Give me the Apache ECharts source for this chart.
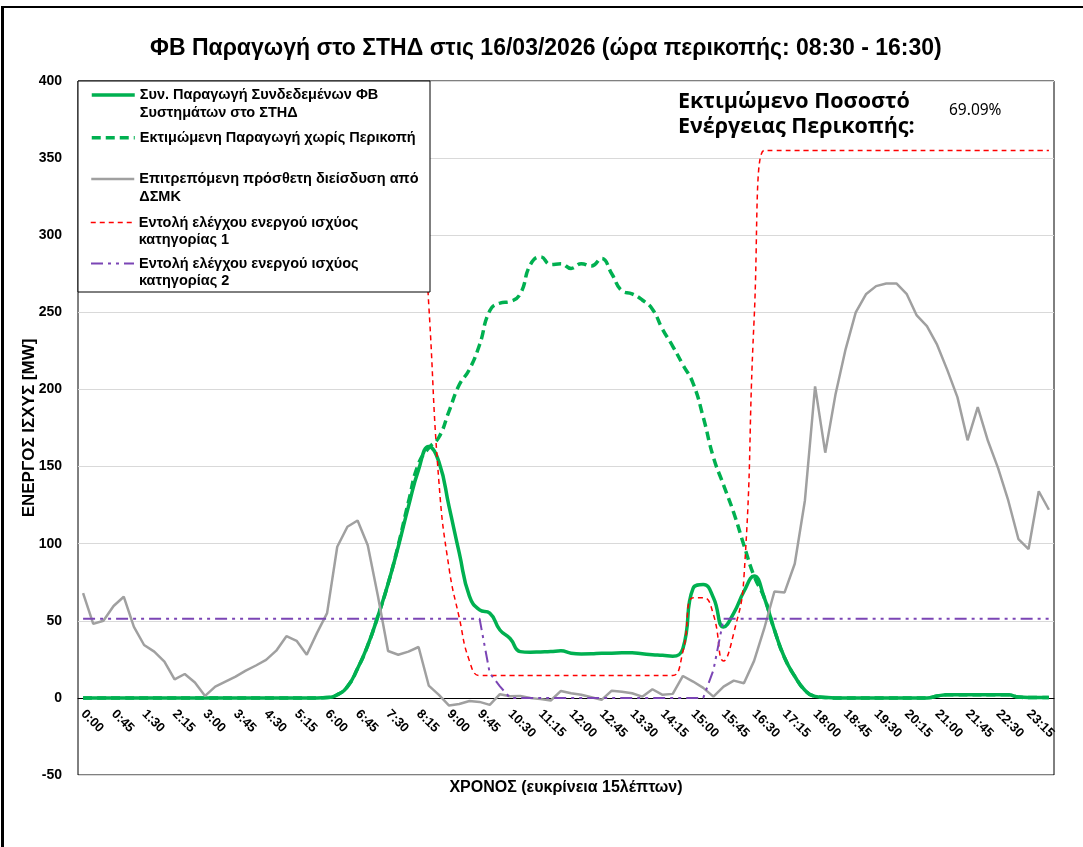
<!DOCTYPE html>
<html>
<head>
<meta charset="utf-8">
<title>ΦΒ Παραγωγή στο ΣΤΗΔ</title>
<script src="https://cdn.jsdelivr.net/npm/echarts@6/dist/echarts.min.js"></script>
<style>
  html, body { margin: 0; padding: 0; background: #fff; }
  #chart { width: 1083px; height: 847px; }
</style>
</head>
<body>
<div id="chart"></div>
<script>
// 15-minute slots
const times = [
  '0:00','0:15','0:30','0:45','1:00','1:15','1:30','1:45','2:00','2:15','2:30','2:45',
  '3:00','3:15','3:30','3:45','4:00','4:15','4:30','4:45','5:00','5:15','5:30','5:45',
  '6:00','6:15','6:30','6:45','7:00','7:15','7:30','7:45','8:00','8:15','8:30','8:45',
  '9:00','9:15','9:30','9:45','10:00','10:15','10:30','10:45','11:00','11:15','11:30','11:45',
  '12:00','12:15','12:30','12:45','13:00','13:15','13:30','13:45','14:00','14:15','14:30','14:45',
  '15:00','15:15','15:30','15:45','16:00','16:15','16:30','16:45','17:00','17:15','17:30','17:45',
  '18:00','18:15','18:30','18:45','19:00','19:15','19:30','19:45','20:00','20:15','20:30','20:45',
  '21:00','21:15','21:30','21:45','22:00','22:15','22:30','22:45','23:00','23:15','23:30','23:45'
];

const yTicks = [-50, 0, 50, 100, 150, 200, 250, 300, 350, 400];

// MW
const pvActual = [
  0, 0, 0, 0, 0, 0, 0, 0, 0, 0, 0, 0,
  0, 0, 0, 0, 0, 0, 0, 0, 0, 0, 0, 0,
  0.2, 2, 7.3, 19, 34, 53, 74, 98, 124, 148,
  163, 153, 124, 94, 66, 57, 55, 44, 38.5, 30,
  29.6, 29.8, 30, 30.5, 29, 28.5, 28.6, 29, 29, 29.2,
  29.2, 28.6, 28, 27.6, 27, 32, 71, 73.5, 65, 46,
  55, 69, 79, 65, 44, 26, 14, 5, 1, 0.3,
  0, 0, 0, 0, 0, 0, 0, 0, 0, 0,
  1.2, 2, 2, 2, 2, 2, 2, 2, 0.5, 0.3, 0.3, 0.3
];

const pvEstimated = [
  0, 0, 0, 0, 0, 0, 0, 0, 0, 0, 0, 0,
  0, 0, 0, 0, 0, 0, 0, 0, 0, 0, 0, 0,
  0.2, 2, 7.3, 19, 34, 53, 74,
  99, 127, 152, 162, 169, 186, 203, 213, 229, 251,
  256, 257, 262, 281, 286, 281, 281.5, 278.5, 281.5, 280,
  285, 275, 264, 262, 258, 252, 239, 228, 216, 204,
  182, 156, 138, 120, 99, 79, 65, 44, 26, 14,
  5, 1, 0.3, 0, 0, 0, 0, 0, 0, 0,
  0, 0, 0, 1.2, 2, 2, 2, 2, 2, 2,
  2, 0.5, 0.3, 0.3, 0.3
];

const allowedPenetration = [
  68, 48, 50, 59.6, 65.6, 46, 34.3, 30, 23.5, 12,
  15.5, 10, 1.3, 7.3, 10.6, 13.8, 17.7, 21, 24.6, 30.6,
  40, 37, 28, 42, 55, 98, 111, 115, 99, 66,
  30.4, 28, 30, 33, 8, 2, -5, -4, -2, -2.6,
  -4.5, 2.4, 1, 1.3, 0, -0.8, -1.7, 4.5, 3, 2,
  0.4, -1.3, 4.7, 4, 3, 0.8, 5.6, 2, 2.6, 14.2,
  10.6, 6.5, 0.8, 7.3, 11.2, 9.5, 24, 45, 69, 68.4,
  87, 128, 202, 159, 196.5, 226, 250, 261.7, 267, 268.7,
  268.7, 262, 248, 241, 229, 212.7, 195, 167, 188.6, 166.7,
  149, 128, 103, 96.5, 134, 122
];

const cmdCat1 = [
  355, 355, 355, 355, 355, 355, 355, 355, 355, 355, 355, 355,
  355, 355, 355, 355, 355, 355, 355, 355, 355, 355, 355, 355,
  355, 355, 355, 355, 355, 355, 355, 355, 355, 355,
  255, 140, 84, 52, 24, 14.5,
  14.5, 14.5, 14.5, 14.5, 14.5, 14.5, 14.5, 14.5, 14.5, 14.5,
  14.5, 14.5, 14.5, 14.5, 14.5, 14.5, 14.5, 14.5, 14.5,
  30, 65, 65, 54, 24, 42, 78, 245,
  355, 355, 355, 355, 355, 355, 355, 355, 355, 355,
  355, 355, 355, 355, 355, 355, 355, 355, 355, 355,
  355, 355, 355, 355, 355, 355, 355, 355, 355
];

const cmdCat2 = [
  51.3, 51.3, 51.3, 51.3, 51.3, 51.3, 51.3, 51.3, 51.3, 51.3,
  51.3, 51.3, 51.3, 51.3, 51.3, 51.3, 51.3, 51.3, 51.3, 51.3,
  51.3, 51.3, 51.3, 51.3, 51.3, 51.3, 51.3, 51.3, 51.3, 51.3,
  51.3, 51.3, 51.3, 51.3, 51.3, 51.3, 51.3, 51.3, 51.3, 51.3,
  16, 7.5,
  0, 0, 0, 0, 0, 0, 0, 0, 0, 0,
  0, 0, 0, 0, 0, 0, 0, 0, 0, 0,
  18,
  51.3, 51.3, 51.3, 51.3, 51.3, 51.3, 51.3, 51.3, 51.3, 51.3, 51.3,
  51.3, 51.3, 51.3, 51.3, 51.3, 51.3, 51.3, 51.3, 51.3, 51.3, 51.3,
  51.3, 51.3, 51.3, 51.3, 51.3, 51.3, 51.3, 51.3, 51.3, 51.3, 51.3
];

const names = [
  'Συν. Παραγωγή Συνδεδεμένων ΦΒ\nΣυστημάτων στο ΣΤΗΔ',
  'Εκτιμώμενη Παραγωγή χωρίς Περικοπή',
  'Επιτρεπόμενη πρόσθετη διείσδυση από\nΔΣΜΚ',
  'Εντολή ελέγχου ενεργού ισχύος\nκατηγορίας 1',
  'Εντολή ελέγχου ενεργού ισχύος\nκατηγορίας 2'
];

const chart = echarts.init(document.getElementById('chart'));

const FONT = '"Liberation Sans", Arial, sans-serif';
const LH = 17.5;

// one legend per entry; a blank first line keeps the icon on the first text line (excel style)
function legendItem(name, iconY, width, twoLines) {
  return {
    data: [name],
    left: 90,
    top: twoLines ? iconY - 26.25 : iconY - 8.75,
    padding: 0,
    z: 10,
    itemWidth: 43,
    itemHeight: 14,
    selectedMode: false,
    lineStyle: { width: width },
    itemStyle: { opacity: 0, color: 'rgba(0,0,0,0)', borderWidth: 0 },
    formatter: n => (twoLines ? '\n' + n : n),
    textStyle: {
      fontFamily: FONT, fontWeight: 'bold', fontSize: 14.5, color: '#000',
      lineHeight: LH
    }
  };
}

const option = {
  backgroundColor: '#fff',
  animation: false,
  title: {
    text: 'ΦΒ Παραγωγή στο ΣΤΗΔ στις 16/03/2026 (ώρα περικοπής: 08:30 - 16:30)',
    left: 150,
    top: 37,
    padding: 0,
    textStyle: { fontFamily: FONT, fontWeight: 'bold', fontSize: 23, color: '#000' }
  },
  legend: [
    legendItem(names[0], 95, 3.5, true),
    legendItem(names[1], 137.7, 3.5, false),
    legendItem(names[2], 179, 2.5, true),
    legendItem(names[3], 222.5, 1.5, true),
    legendItem(names[4], 263.5, 2, true)
  ],
  grid: {
    left: 78, top: 81, width: 976, height: 694,
    outerBoundsMode: 'none',
    show: true, borderColor: '#000', borderWidth: 1
  },
  xAxis: {
    type: 'category',
    data: times,
    boundaryGap: true,
    // axis sits on y = 0
    offset: -77,
    name: 'ΧΡΟΝΟΣ (ευκρίνεια 15λέπτων)',
    nameLocation: 'middle',
    nameGap: 82,
    nameMoveOverlap: false,
    nameTextStyle: { fontFamily: FONT, fontWeight: 'bold', fontSize: 16, color: '#000' },
    axisLine: { onZero: false, lineStyle: { color: '#000', width: 1 } },
    axisTick: { show: false },
    axisLabel: {
      interval: 2, rotate: -45, margin: 14,
      fontFamily: FONT, fontWeight: 'bold', fontSize: 13, color: '#000'
    },
    splitLine: { show: false }
  },
  yAxis: {
    type: 'value',
    min: yTicks[0],
    max: yTicks[yTicks.length - 1],
    interval: yTicks[1] - yTicks[0],
    name: 'ΕΝΕΡΓΟΣ ΙΣΧΥΣ [MW]',
    nameLocation: 'middle',
    nameRotate: 90,
    nameGap: 40,
    nameMoveOverlap: false,
    nameTextStyle: { fontFamily: FONT, fontWeight: 'bold', fontSize: 17, color: '#000' },
    axisLine: { show: false },
    axisTick: { show: false },
    axisLabel: { margin: 16, fontFamily: FONT, fontWeight: 'bold', fontSize: 14, color: '#000' },
    splitLine: { lineStyle: { color: '#d9d9d9', width: 1 } }
  },
  series: [
    {
      name: names[0], type: 'line', data: pvActual, smooth: true, symbol: 'none',
      lineStyle: { color: '#00b050', width: 3.5 }, itemStyle: { color: '#00b050' }
    },
    {
      name: names[1], type: 'line', data: pvEstimated, smooth: true, symbol: 'none',
      lineStyle: { color: '#00b050', width: 3.5, type: [9, 5] }, itemStyle: { color: '#00b050' }
    },
    {
      name: names[2], type: 'line', data: allowedPenetration, symbol: 'none',
      lineStyle: { color: '#a0a0a0', width: 2.5 }, itemStyle: { color: '#a0a0a0' }
    },
    {
      name: names[3], type: 'line', data: cmdCat1, smooth: true, symbol: 'none',
      lineStyle: { color: '#ff0000', width: 1.5, type: [5, 4] }, itemStyle: { color: '#ff0000' }
    },
    {
      name: names[4], type: 'line', data: cmdCat2, symbol: 'none',
      lineStyle: { color: '#7b45b5', width: 2, type: [12, 5, 3, 5, 3, 5] }, itemStyle: { color: '#7b45b5' }
    }
  ],
  graphic: [
    // legend frame, covers the lines under it
    {
      type: 'rect', z: 5,
      shape: { x: 78, y: 81, width: 352, height: 211 },
      style: { fill: '#fff', stroke: '#000', lineWidth: 1 }
    },
    {
      type: 'text', z: 10, left: 678, top: 89,
      style: {
        text: 'Εκτιμώμενο Ποσοστό\nΕνέργειας Περικοπής:',
        font: 'bold 21.5px "Open Sans", sans-serif', lineHeight: 25, fill: '#000'
      }
    },
    {
      type: 'text', z: 10, left: 949, top: 103,
      style: { text: '69.09%', font: '15.5px "Noto Sans", sans-serif', fill: '#000' }
    },
    // outer frame
    { type: 'line', z: 10, shape: { x1: 2.5, y1: 7, x2: 2.5, y2: 847 }, style: { stroke: '#000', lineWidth: 3 } },
    { type: 'line', z: 10, shape: { x1: 1, y1: 7, x2: 1083, y2: 7 }, style: { stroke: '#000', lineWidth: 2 } }
  ]
};

chart.setOption(option);
</script>
</body>
</html>
